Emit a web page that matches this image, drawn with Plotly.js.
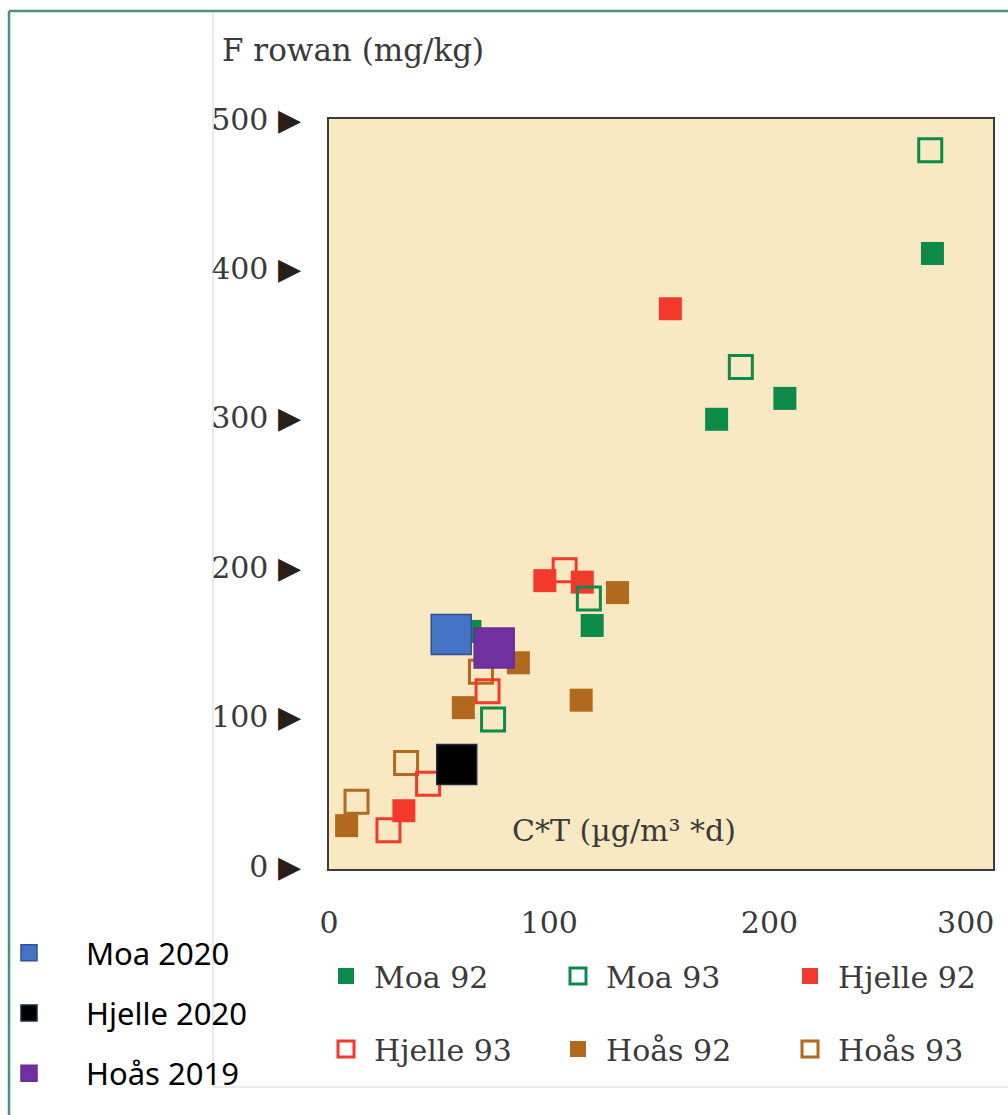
<!DOCTYPE html>
<html><head><meta charset="utf-8">
<script src="https://cdn.plot.ly/plotly-3.0.1.min.js"></script>
<style>html,body{margin:0;padding:0;background:#fff;} #chart{width:1008px;height:1115px;}</style>
</head><body><div id="chart"></div>
<script>
// ---- data ----
const xTickVals = [0, 100, 200, 300];
const xTickLabels = ['0', '100', '200', '300'];
const yTickVals = [0, 100, 200, 300, 400, 500];
const yTickLabels = ['0', '100', '200', '300', '400', '500'];

const seriesNames = ['Moa 92', 'Moa 93', 'Hjelle 92', 'Hjelle 93', 'Hoås 92', 'Hoås 93'];
const moa92X = [64, 119.5, 176, 207, 274];
const moa92Y = [157, 161, 299, 313, 410];
const moa93X = [74.5, 118, 187, 273];
const moa93Y = [98, 179, 334, 479];
const hjelle92X = [34, 98, 115, 155];
const hjelle92Y = [37, 191, 190, 373];
const hjelle93X = [27, 45, 72, 107];
const hjelle93Y = [24, 55, 117, 198];
const hoas92X = [8, 61, 86, 114.5, 131];
const hoas92Y = [27, 106, 136, 111, 183];
const hoas93X = [12.5, 35, 69];
const hoas93Y = [43, 69, 130];

const newNames = ['Moa 2020', 'Hjelle 2020', 'Hoås 2019'];
const newX = [55.5, 58, 75];
const newY = [155, 68, 146];

const yTitle = 'F rowan (mg/kg)';
const xTitle = 'C*T (µg/m³ *d)';

// ---- styling ----
const GREEN = '#0b8a4a', RED = '#f2392c', BROWN = '#b0691d';
const serif = 'DejaVu Serif, Liberation Serif, serif';
const textGray = '#3a3a3a';

// plot-area pixel frame
const L = 329, R = 993, T = 119, B = 869;
const W = R - L, H = B - T;
const px = X => (X - L) / W;
const py = Y => (B - Y) / H;
const X_RANGE = [0, 301.5];

function oldTrace(idx, xs, ys, color, open, leg) {
  return {
    type: 'scatter', mode: 'markers', name: seriesNames[idx], x: xs, y: ys,
    legend: leg, legendrank: idx + 1,
    marker: open
      ? {symbol: 'square-open', size: 23, color: color, line: {color: color, width: 3}}
      : {symbol: 'square', size: 23, color: color, line: {width: 0}},
    hoverinfo: 'x+y+name'
  };
}

const traces = [
  oldTrace(4, hoas92X, hoas92Y, BROWN, false, 'legend3'),
  oldTrace(5, hoas93X, hoas93Y, BROWN, true, 'legend3'),
  oldTrace(2, hjelle92X, hjelle92Y, RED, false, 'legend'),
  oldTrace(3, hjelle93X, hjelle93Y, RED, true, 'legend3'),
  oldTrace(0, moa92X, moa92Y, GREEN, false, 'legend'),
  oldTrace(1, moa93X, moa93Y, GREEN, true, 'legend')
];
const newColors = ['#4472c4', '#000000', '#7030a0'];
const newLines = ['#2f528f', '#1f2a44', '#6a2c98'];
for (let i = 0; i < newNames.length; i++) {
  traces.push({
    type: 'scatter', mode: 'markers', name: newNames[i],
    x: [newX[i]], y: [newY[i]], xaxis: 'x2', yaxis: 'y',
    legend: 'legend2', legendgroup: 'g' + i, legendrank: i + 1,
    marker: {symbol: 'square', size: 40, color: newColors[i], line: {color: newLines[i], width: 1.5}}
  });
}

const nX = xTickVals.length;
const tickFont = {family: serif, size: 30, color: textGray};
const legendFont = {family: serif, size: 30, color: textGray};
const layout = {
  width: 1008, height: 1115,
  margin: {l: L, r: 1008 - R, t: T, b: 1115 - B, pad: 0, autoexpand: false},
  paper_bgcolor: '#ffffff', plot_bgcolor: '#f9e9c2',
  showlegend: true,
  xaxis: {
    range: X_RANGE, tickmode: 'array',
    tickvals: xTickVals.slice(0, nX - 1), ticktext: xTickLabels.slice(0, nX - 1),
    showgrid: false, zeroline: false, showline: true, mirror: true,
    linecolor: '#3a3a3a', linewidth: 2, ticks: '', ticklabelstandoff: 26,
    tickfont: tickFont, fixedrange: true
  },
  // overlay axis carrying only the last label, nudged inside the frame as in the original
  xaxis2: {
    overlaying: 'x', anchor: 'y', side: 'bottom', range: X_RANGE, tickmode: 'array',
    tickvals: xTickVals.slice(nX - 1), ticktext: xTickLabels.slice(nX - 1),
    showgrid: false, zeroline: false, showline: false, ticks: '',
    ticklabelstandoff: 33, ticklabelshift: -24, ticklabeloverflow: 'allow',
    tickfont: tickFont, fixedrange: true
  },
  yaxis: {
    range: [-2, 500], tickmode: 'array', tickvals: yTickVals,
    ticktext: yTickLabels.map(t => t + ' <span style="color:#2a1e18">▶</span>'),
    showgrid: false, zeroline: false, showline: true, mirror: true,
    linecolor: '#3a3a3a', linewidth: 2, ticks: '', ticklabelstandoff: 20,
    tickfont: tickFont, fixedrange: true
  },
  legend: {
    orientation: 'h', x: px(318), y: py(950), xanchor: 'left', yanchor: 'top',
    entrywidth: 171, itemwidth: 46, font: legendFont, bgcolor: 'rgba(0,0,0,0)',
    traceorder: 'normal'
  },
  legend3: {
    orientation: 'h', x: px(318), y: py(1023), xanchor: 'left', yanchor: 'top',
    entrywidth: 171, itemwidth: 46, font: legendFont, bgcolor: 'rgba(0,0,0,0)',
    traceorder: 'normal'
  },
  legend2: {
    orientation: 'v', x: px(-28), y: py(926), xanchor: 'left', yanchor: 'top',
    itemwidth: 104, font: {family: 'Noto Sans, Open Sans, sans-serif', size: 31, color: '#000'},
    tracegroupgap: 17, bgcolor: 'rgba(0,0,0,0)', traceorder: 'grouped'
  },
  annotations: [
    {text: yTitle, xref: 'paper', yref: 'paper', x: px(220), y: py(50), xanchor: 'left', yanchor: 'middle',
     showarrow: false, font: {family: serif, size: 31, color: textGray}},
    {text: xTitle, xref: 'paper', yref: 'paper', x: px(624), y: py(830), xanchor: 'center', yanchor: 'middle',
     showarrow: false, font: {family: serif, size: 30, color: textGray}}
  ],
  shapes: [
    {type: 'line', xref: 'paper', yref: 'paper', x0: px(9), x1: px(9), y0: py(11), y1: py(1115), line: {color: '#4f8f80', width: 2.5}},
    {type: 'line', xref: 'paper', yref: 'paper', x0: px(9), x1: px(1008), y0: py(11), y1: py(11), line: {color: '#4f8f80', width: 2.5}},
    {type: 'line', xref: 'paper', yref: 'paper', x0: px(213), x1: px(213), y0: py(12), y1: py(1087), line: {color: '#d6d6d6', width: 1}},
    {type: 'line', xref: 'paper', yref: 'paper', x0: px(213), x1: px(1008), y0: py(1087), y1: py(1087), line: {color: '#d6d6d6', width: 1}}
  ]
};

Plotly.newPlot('chart', traces, layout, {displayModeBar: false});
</script></body></html>
